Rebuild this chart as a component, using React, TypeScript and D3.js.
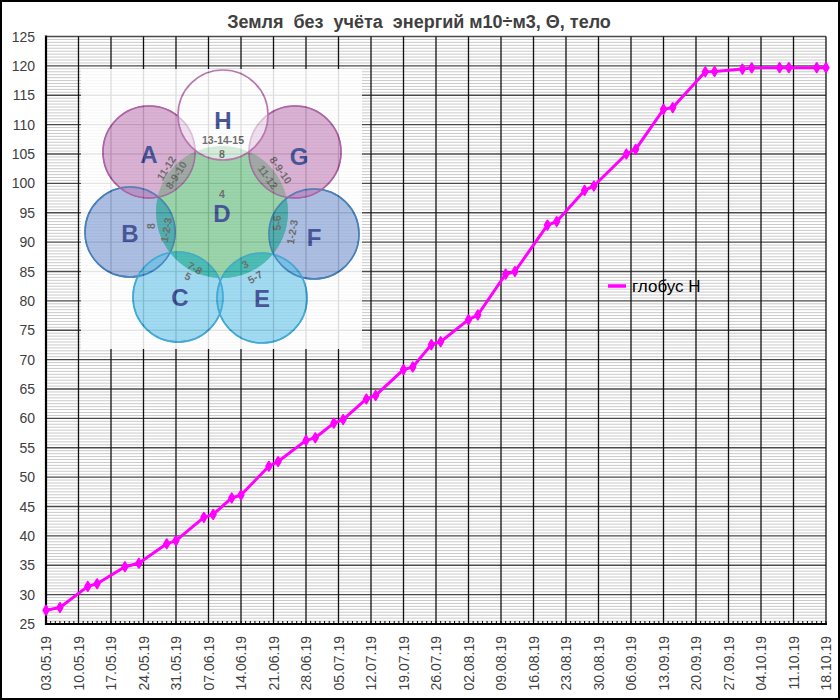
import React from 'react';
import * as d3 from 'd3';

// measurement dates (dd.mm.yy) and values of the series
const dates = [
  '03.05.19', '06.05.19', '12.05.19', '14.05.19', '20.05.19', '23.05.19',
  '29.05.19', '31.05.19', '06.06.19', '08.06.19', '12.06.19', '14.06.19',
  '20.06.19', '22.06.19', '28.06.19', '30.06.19', '04.07.19', '06.07.19',
  '11.07.19', '13.07.19', '19.07.19', '21.07.19', '25.07.19', '27.07.19',
  '02.08.19', '04.08.19', '10.08.19', '12.08.19', '19.08.19', '21.08.19',
  '27.08.19', '29.08.19', '05.09.19', '07.09.19', '13.09.19', '15.09.19',
  '22.09.19', '24.09.19', '30.09.19', '02.10.19', '08.10.19', '10.10.19',
  '16.10.19', '18.10.19',
];
const values = [
  27.35, 27.8, 31.4, 31.85, 34.75, 35.35,
  38.65, 39.2, 43.15, 43.65, 46.45, 46.95,
  51.85, 52.65, 56.25, 56.7, 59.2, 59.8,
  63.3, 63.9, 68.3, 68.75, 72.55, 73.05,
  76.8, 77.6, 84.55, 85.0, 92.9, 93.5,
  98.8, 99.55, 105.0, 105.8, 112.6, 112.9,
  119.0, 119.05, 119.45, 119.65, 119.7, 119.7,
  119.7, 119.7,
];
const seriesName = 'глобус Н';
const chartTitle = 'Земля  без  учёта  энергий м10÷м3, Θ, тело';
const yTicks = d3.range(25, 126, 5);
const xStart = '03.05.19';
const xEnd = '18.10.19';

// the picture pasted into the chart (circles diagram)
const blobs = [
  { id: 'B', cx: 130, cy: 232, r: 45, fill: '#5b82c8', stroke: '#2e6fb0' },
  { id: 'F', cx: 314, cy: 234, r: 45, fill: '#5b82c8', stroke: '#2e6fb0' },
  { id: 'C', cx: 178, cy: 297, r: 45, fill: '#45b8e6', stroke: '#2a9fd0' },
  { id: 'E', cx: 262, cy: 298, r: 45, fill: '#45b8e6', stroke: '#2a9fd0' },
  { id: 'A', cx: 149, cy: 152, r: 46, fill: '#b566aa', stroke: '#a24f98' },
  { id: 'G', cx: 295, cy: 152, r: 46, fill: '#b566aa', stroke: '#a24f98' },
];
const centre = { cx: 222, cy: 212, r: 66 };
const top = { cx: 223, cy: 115, r: 45 };
const lenses = [
  { id: 'A', color: '#9a9a9a' },
  { id: 'G', color: '#9a9a9a' },
  { id: 'B', color: '#2f9fa8' },
  { id: 'F', color: '#2f9fa8' },
  { id: 'C', color: '#26b0b0' },
  { id: 'E', color: '#26b0b0' },
];
const bigLetters = [
  { t: 'H', x: 223, y: 120 },
  { t: 'A', x: 149, y: 154 },
  { t: 'G', x: 299, y: 156 },
  { t: 'D', x: 222, y: 213 },
  { t: 'B', x: 130, y: 233 },
  { t: 'F', x: 314, y: 237 },
  { t: 'C', x: 180, y: 297 },
  { t: 'E', x: 262, y: 298 },
];
const smallLabels = [
  { t: '13-14-15', x: 223, y: 140, a: 0 },
  { t: '8', x: 222, y: 154, a: 0 },
  { t: '4', x: 222, y: 194, a: 0 },
  { t: '11-12', x: 166, y: 168, a: -58 },
  { t: '8-9-10', x: 176, y: 175, a: -58 },
  { t: '8-9-10', x: 281, y: 170, a: 55 },
  { t: '11-12', x: 268, y: 177, a: 55 },
  { t: '8', x: 151, y: 226, a: -90 },
  { t: '1-2-3', x: 166, y: 230, a: -80 },
  { t: '5-6', x: 277, y: 223, a: -90 },
  { t: '1-2-3', x: 292, y: 232, a: -80 },
  { t: '7-8', x: 195, y: 268, a: 30 },
  { t: '5', x: 188, y: 276, a: 25 },
  { t: '3', x: 245, y: 264, a: -30 },
  { t: '5-7', x: 255, y: 277, a: -30 },
];

const W = 840;
const H = 700;
const margin = { left: 46, right: 14, top: 36.5, bottom: 76 };
const font = 'Arial, "Liberation Sans", sans-serif';

const App: React.FC = () => {
  const parse = d3.timeParse('%d.%m.%y');
  const fmt = d3.timeFormat('%d.%m.%y');
  const start = parse(xStart) as Date;
  const end = parse(xEnd) as Date;
  const points = dates.map((d, i) => ({ date: parse(d) as Date, value: values[i] }));

  const x = d3.scaleTime().domain([start, end]).range([margin.left, W - margin.right]);
  const y = d3.scaleLinear().domain([25, 125]).range([H - margin.bottom, margin.top]);

  const weeks = d3.timeDay.range(start, d3.timeDay.offset(end, 1), 7);
  const days = d3.timeDay.range(start, d3.timeDay.offset(end, 1));
  const minor = d3.range(25, 125, 0.5).filter((v) => v % 5 !== 0);

  const line = d3.line<{ date: Date; value: number }>()
    .x((d) => x(d.date))
    .y((d) => y(d.value));
  const diamond = d3.symbol().type(d3.symbolDiamond).size(24)();

  const x0 = margin.left;
  const x1 = W - margin.right;
  const y0 = H - margin.bottom;
  const y1 = margin.top;
  const blobById = (id: string) => blobs.find((b) => b.id === id)!;

  return (
    <div style={{ position: 'absolute', left: 0, top: 0 }}>
      <svg width={W} height={H} style={{ display: 'block', background: '#fff' }}>
        <defs>
          <clipPath id="clipD">
            <circle cx={centre.cx} cy={centre.cy} r={centre.r} />
          </clipPath>
        </defs>

        {/* minor horizontal grid */}
        {minor.map((v) => (
          <line key={'m' + v} x1={x0} x2={x1} y1={y(v)} y2={y(v)} stroke="#c4c4c4" strokeWidth={0.9} />
        ))}
        {/* major horizontal grid */}
        {yTicks.map((v) => (
          <line key={'h' + v} x1={x0} x2={x1} y1={y(v)} y2={y(v)} stroke="#4a4a4a" strokeWidth={1.4} />
        ))}
        {/* weekly vertical grid */}
        {weeks.map((d) => (
          <line key={'v' + d.getTime()} x1={x(d)} x2={x(d)} y1={y1} y2={y0} stroke="#111" strokeWidth={1.3} />
        ))}

        {/* daily minor ticks on x axis */}
        {days.map((d) => (
          <line key={'t' + d.getTime()} x1={x(d)} x2={x(d)} y1={y0} y2={y0 - 3} stroke="#000" strokeWidth={1} />
        ))}
        <line x1={x0} x2={x1 + 1} y1={y0} y2={y0} stroke="#000" strokeWidth={2.2} />
        <line x1={x0} x2={x0} y1={y1 - 1} y2={y0 + 1} stroke="#000" strokeWidth={2.2} />

        {/* pasted picture */}
        <g opacity={0.86}>
          <rect x={81} y={69} width={281} height={280} fill="#fff" />
          {blobs.map((b) => (
            <circle key={b.id} cx={b.cx} cy={b.cy} r={b.r} fill={b.fill} fillOpacity={0.58}
              stroke={b.stroke} strokeWidth={1.6} />
          ))}
          <circle cx={centre.cx} cy={centre.cy} r={centre.r} fill="#3fae5e" fillOpacity={0.6} />
          {lenses.map((l) => {
            const b = blobById(l.id);
            return (
              <circle key={'l' + l.id} cx={b.cx} cy={b.cy} r={b.r} fill={l.color} fillOpacity={0.8}
                clipPath="url(#clipD)" />
            );
          })}
          {blobs.map((b) => (
            <circle key={'s' + b.id} cx={b.cx} cy={b.cy} r={b.r} fill="none"
              stroke={b.stroke} strokeWidth={1.4} strokeOpacity={0.8} />
          ))}
          <circle cx={top.cx} cy={top.cy} r={top.r} fill="#fff" fillOpacity={0.6}
            stroke="#b065a8" strokeWidth={1.6} />
          {bigLetters.map((l) => (
            <text key={'L' + l.t} x={l.x} y={l.y} textAnchor="middle" dominantBaseline="central"
              fontFamily={font} fontSize={24} fontWeight="bold" fill="#2e3d8c">{l.t}</text>
          ))}
          {smallLabels.map((l, i) => (
            <text key={'s' + i} transform={`translate(${l.x},${l.y}) rotate(${l.a})`} textAnchor="middle"
              dominantBaseline="central" fontFamily={font} fontSize={10.5} fontWeight="bold" fill="#5a5a5a">{l.t}</text>
          ))}
        </g>

        {/* series */}
        <path d={line(points) || ''} fill="none" stroke="#ff00ff" strokeWidth={3} strokeLinejoin="round" />
        {points.map((p, i) => (
          <path key={'p' + i} d={diamond || ''} transform={`translate(${x(p.date)},${y(p.value)})`}
            fill="#ff00ff" stroke="#ff00ff" strokeWidth={2} strokeLinejoin="round" />
        ))}

        {/* y labels */}
        {yTicks.map((v) => (
          <text key={'yl' + v} x={35} y={y(v)} textAnchor="end" dominantBaseline="central"
            fontFamily={font} fontSize={14} fill="#404040">{v}</text>
        ))}
        {/* x labels */}
        {weeks.map((d) => (
          <text key={'xl' + d.getTime()} transform={`translate(${x(d)},${y0 + 12}) rotate(-90)`}
            textAnchor="end" dominantBaseline="central" fontFamily={font} fontSize={14} fill="#404040">
            {fmt(d)}
          </text>
        ))}

        {/* title */}
        <text x={419} y={28} textAnchor="middle" fontFamily={font} fontSize={18} fontWeight="bold"
          fill="#404040" style={{ whiteSpace: 'pre' }}>{chartTitle}</text>

        {/* legend */}
        <line x1={608} x2={626} y1={286} y2={286} stroke="#ff00ff" strokeWidth={3.5} />
        <text x={632} y={286} dominantBaseline="central" fontFamily={font} fontSize={17} fill="#000">
          {seriesName}
        </text>

        {/* outer frame */}
        <rect x={1} y={1} width={W - 2} height={H - 2} fill="none" stroke="#000" strokeWidth={2} />
      </svg>
    </div>
  );
};

export default App;
